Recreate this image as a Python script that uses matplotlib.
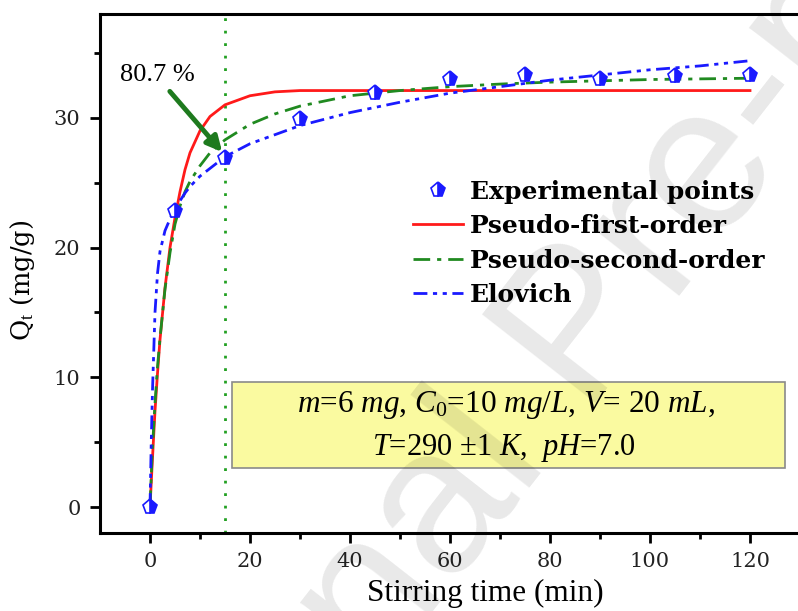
import matplotlib.pyplot as plt
from matplotlib.patches import Rectangle

plt.rcParams['mathtext.fontset'] = 'custom'
plt.rcParams['mathtext.rm'] = 'Liberation Serif'
plt.rcParams['mathtext.it'] = 'Liberation Serif:italic'

# experimental points
t_exp = [0, 5, 15, 30, 45, 60, 75, 90, 105, 120]
q_exp = [0, 22.8, 26.9, 29.9, 31.9, 33.0, 33.3, 33.0, 33.2, 33.3]

# fitted curves
t_fit = [0, 0.25, 0.5, 1, 1.5, 2, 3, 4, 5, 6, 7, 8, 10, 12, 15, 20, 25, 30,
         40, 50, 60, 70, 80, 90, 100, 110, 120]
q_pfo = [0, 1.9, 3.8, 7.4, 10.3, 12.9, 16.9, 20.0, 22.3, 24.3, 26.0, 27.3, 29.0,
         30.1, 31.0, 31.7, 32.0, 32.1, 32.1, 32.1, 32.1, 32.1, 32.1, 32.1, 32.1, 32.1, 32.1]
q_pso = [0, 2.4, 4.6, 8.0, 10.8, 13.0, 16.8, 19.6, 21.8, 23.2, 24.3, 25.1, 26.3,
         27.3, 28.3, 29.5, 30.3, 30.9, 31.7, 32.1, 32.4, 32.6, 32.75, 32.85, 32.95, 33.0, 33.05]
q_elo = [0, 5.0, 9.0, 15.0, 18.0, 19.7, 21.3, 22.2, 23.0, 23.6, 24.2, 24.7, 25.5,
         26.1, 27.0, 28.0, 28.7, 29.4, 30.4, 31.2, 31.9, 32.4, 32.9, 33.3, 33.7, 34.0, 34.4]

t_mark = 15
label_pct = "80.7 %"
box_line1 = r"$m$=6 $mg$, $C_0$=10 $mg/L$, $V$= 20 $mL$,"
box_line2 = r"$T$=290 ±1 $K$,  $pH$=7.0"

fig = plt.figure(figsize=(7.98, 6.11), dpi=100)
ax = fig.add_axes([100/798, 78/611, 698/798, 519/611])

ax.axvline(t_mark, color='#22a022', ls=(0, (1, 3.5)), lw=2, zorder=1)

ax.plot(t_fit, q_pfo, c='#ff1a1a', lw=2, label='Pseudo-first-order', zorder=3)
ax.plot(t_fit, q_pso, c='#208a20', lw=2, ls=(0, (6, 2.5, 1.5, 2.5)), label='Pseudo-second-order', zorder=3)
ax.plot(t_fit, q_elo, c='#1a1aff', lw=2, ls=(0, (5, 2, 1.5, 2, 1.5, 2)), label='Elovich', zorder=3)
pts, = ax.plot(t_exp, q_exp, ls='none', marker='p', ms=11, mfc='#1a1aff', mfcalt='white',
               fillstyle='right', mec='#1a1aff', mew=1.2, label='Experimental points', zorder=4)

ax.set_xlim(-10, 129.6)
ax.set_ylim(-2, 38)
ax.set_xticks([0, 20, 40, 60, 80, 100, 120])
ax.set_xticks([10, 30, 50, 70, 90, 110], minor=True)
ax.set_yticks([0, 10, 20, 30])
ax.set_yticks([5, 15, 25, 35], minor=True)
ax.tick_params(which='major', length=7, width=2, labelsize=15, pad=7)
ax.tick_params(which='minor', length=4, width=2)
for lab in ax.get_xticklabels() + ax.get_yticklabels():
    lab.set_family('DejaVu Serif')
    lab.set_color('#222222')
for s in ['left', 'top', 'bottom']:
    ax.spines[s].set_linewidth(2.2)
ax.spines['right'].set_visible(False)

ax.set_xlabel('Stirring time (min)', family='Liberation Serif', fontsize=22.5)
ax.xaxis.set_label_coords(0.552, -0.088)
ax.set_ylabel(r'Q$_\mathrm{t}$ (mg/g)', family='DejaVu Serif', fontsize=18.5)
ax.yaxis.set_label_coords(-0.09, 0.486)

handles, labels = ax.get_legend_handles_labels()
order = [3, 0, 1, 2]
ax.legend([handles[i] for i in order], [labels[i] for i in order],
          loc='upper left', bbox_to_anchor=(0.43, 0.705), frameon=False,
          prop={'family': 'DejaVu Serif', 'weight': 'bold', 'size': 18},
          handlelength=2.0, handletextpad=0.3, labelspacing=0.42, borderpad=0)

ax.text(1.4, 33.3, label_pct, family='Liberation Serif', fontsize=19, ha='center', va='center')
ax.annotate('', xy=(14.8, 27.2), xytext=(3.6, 32.2),
            arrowprops=dict(arrowstyle='-|>,head_width=0.45,head_length=0.9', color='#1e7a1e', lw=3.5))

ax.add_patch(Rectangle((132/698, 65/519), 553/698, 86/519, transform=ax.transAxes,
                       facecolor='#fafaa0', edgecolor='#8a8a8a', lw=1.2, zorder=2))
ax.text(0.582, 0.247, box_line1, transform=ax.transAxes, family='Liberation Serif',
        fontsize=22.5, ha='center', va='center', zorder=5)
ax.text(0.578, 0.164, box_line2, transform=ax.transAxes, family='Liberation Serif',
        fontsize=22, ha='center', va='center', zorder=5)

fig.text(0.73, 0.455, 'Journal Pre-proof', rotation=52, fontsize=150, color='black', alpha=0.09,
         family='Liberation Sans', ha='center', va='center', rotation_mode='anchor', zorder=10)

fig.savefig('out.png', dpi=100)
